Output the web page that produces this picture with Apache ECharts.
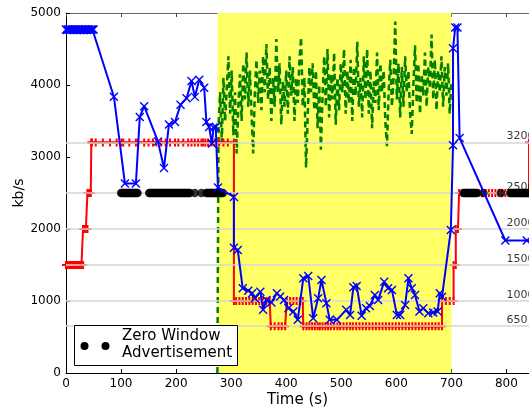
<!DOCTYPE html>
<html><head><meta charset="utf-8">
<script src="https://cdn.jsdelivr.net/npm/echarts@6/dist/echarts.min.js"></script>
<style>html,body{margin:0;padding:0;background:#fff}#c{width:529px;height:409px}</style>
</head><body><div id="c"></div>
<script>
// ---- data ----
const xTicks = [0,100,200,300,400,500,600,700,800];
const yTicks = [0,1000,2000,3000,4000,5000];
const rateLevels = [3200,2500,2000,1500,1000,650];
const competingSpan = [275,700];

const videoThroughput = [
[0,4770],[2,4765],[4,4770],[6,4770],[8,4765],[10,4770],[12,4770],[14,4765],[16,4770],[18,4770],[20,4765],[22,4770],[24,4770],[26,4765],[28,4770],[30,4770],[32,4765],[34,4770],[36,4770],[38,4765],[40,4770],[42,4770],[44,4765],[46,4770],[48,4770],[50,4770],
[87,3837],[107,2632],[127,2632],[134,3554],[142,3706],[167,3217],[178,2848],[187,3453],[198,3485],[208,3726],[219,3817],[228,4055],[234,3835],[242,4072],[251,3961],[255,3485],[260,3416],[265,3186],[268,3410],[272,3416],[276,2575],[305,2446],[305,1740],[312,1708],[321,1177],[331,1144],[338,1108],[343,1039],[353,1130],[358,877],[364,1015],[373,978],[383,1108],[389,1061],[396,1015],[404,900],[413,853],[421,738],[431,1316],[440,1348],[449,762],[458,1039],[464,1292],[473,970],[479,738],[492,738],[509,877],[516,807],[522,1191],[528,1209],[537,794],[545,900],[552,932],[561,1084],[567,1015],[578,1269],[585,1177],[592,1154],[601,807],[607,807],[616,946],[622,1316],[628,1177],[634,1084],[642,853],[649,900],[658,831],[667,839],[675,853],[679,1108],[683,1060],[699,1985],[703,3162],[703,4510],[707,4800],[711,4800],[715,3263],[798,1840],[837,1840],[846,1840]
];

const playbackRate = [
[0,1500],[2,1500],[4,1500],[6,1500],[8,1500],[10,1500],[12,1500],[14,1500],[16,1500],[18,1500],[20,1500],[22,1500],[24,1500],[26,1500],[28,1500],[31,1500],[31,2000],[33,2000],[36,2000],[39,2000],[39,2500],[42,2500],[45,2500],[46,3200],
[47,3200],[54,3200],[67,3200],[80,3200],[92,3200],[101,3200],[104,3200],[115,3200],[127,3200],[131,3200],[142,3200],[150,3200],[158,3200],[164,3200],[173,3200],[181,3200],[189,3200],[198,3200],[204,3200],[213,3200],[222,3200],[228,3200],[234,3200],[240,3200],[246,3200],[249,3200],[253,3200],[258,3200],[264,3200],[270,3200],[278,3200],[286,3200],[294,3200],[305,3200],
[305,1000],[309,1000],[315,1000],[321,1000],[327,1000],[333,1000],[339,1000],[345,1000],[351,1000],[358,1000],[364,1000],[370,1000],[372,650],[379,650],[386,650],[392,650],[398,650],[401,1000],[407,1000],[413,1000],[419,1000],[425,1000],[430,1000],[431,650],
[437,650],[442,650],[447,650],[452,650],[457,650],[461,650],[466,650],[471,650],[476,650],[481,650],[487,650],[493,650],[498,650],[504,650],[510,650],[516,650],[521,650],[527,650],[533,650],[539,650],[545,650],[551,650],[557,650],[563,650],[569,650],[575,650],[581,650],[587,650],[593,650],[599,650],[605,650],[611,650],[617,650],[623,650],[629,650],[635,650],[641,650],[647,650],[653,650],[659,650],[665,650],[671,650],[677,650],[683,650],
[683,1000],[690,1000],[697,1000],[704,1000],[704,1500],[708,1500],[708,2000],[712,2000],[714,2500],[720,2500],[726,2500],[732,2500],[738,2500],[744,2500],[750,2500],[756,2500],[762,2500],[768,2500],[774,2500],[780,2500],[786,2500],[792,2500],[798,2500],[804,2500],[810,2500],[816,2500],[822,2500],[828,2500],[834,2500],[841,2500],[841,3200],[846,3200]
];

const competingThroughput = [
[275,0],[277,3400],[280,3900],[283,3200],[286,4100],[289,3500],[292,3950],[295,4400],[298,3600],[301,4200],[304,3300],[307,3900],[310,3050],[313,3700],[316,4150],[319,3500],[322,4300],[325,3800],[328,4450],[331,3700],[334,4200],[337,3600],[340,3050],[343,3900],[346,4350],[349,3750],[352,4200],[355,3650],[358,4400],[361,3900],[364,4570],[367,3800],[370,4250],[373,3500],[376,4100],[379,3700],[382,4640],[385,3900],[388,4300],[391,3450],[394,4050],[397,3700],[400,4200],[403,3600],[406,4400],[409,3850],[412,4250],[415,3500],[418,4100],[421,3750],[424,4350],[427,4660],[430,3700],[433,4100],[436,2850],[439,3550],[442,4250],[445,3900],[448,4300],[451,3650],[454,4200],[457,3400],[460,4000],[463,3100],[466,3850],[469,4400],[472,3700],[475,4500],[478,3550],[481,4150],[484,3800],[487,4450],[490,3450],[493,4100],[496,3650],[499,4300],[502,3900],[505,4500],[508,3600],[511,4200],[514,3750],[517,4350],[520,3500],[523,4250],[526,3850],[529,4600],[532,3700],[535,4100],[538,3550],[541,4400],[544,3800],[547,4500],[550,3600],[553,4200],[556,3400],[559,4050],[562,3750],[565,4450],[568,3650],[571,4300],[574,3900],[577,4200],[580,3500],[583,3150],[586,3900],[589,4350],[592,3700],[595,4100],[598,4880],[601,3800],[604,4300],[607,3550],[610,4250],[613,3700],[616,4400],[619,3900],[622,4200],[625,3600],[628,3320],[631,4000],[634,4550],[637,3750],[640,4300],[643,3600],[646,4150],[649,3850],[652,4450],[655,3700],[658,4250],[661,3950],[664,4700],[667,3800],[670,4350],[673,3650],[676,4200],[679,3900],[682,4400],[685,3700],[688,4250],[691,3850],[694,4300],[697,3600],[700,4050]
];

const zeroWindowTimes = [100,102,104,106,108,110,112,114,116,118,120,122,124,126,128,130,
151,153,155,157,159,161,163,165,167,169,171,173,175,177,179,181,183,185,187,189,191,193,195,197,199,201,203,205,207,209,211,213,215,217,219,221,223,225,
234,246,255,257,259,261,263,265,267,269,271,273,275,277,279,281,283,285,
722,724,726,728,730,732,734,736,738,740,742,744,746,758,790,807,809,811,813,815,817,819,821,823,825,827,829,831,833,835,837,839,841];
const zeroWindowLevel = 2500;

// ---- chart ----
const FONT = 'DejaVu Sans';
const X_MAX = 841;
const chart = echarts.init(document.getElementById('c'), null, {renderer:'canvas'});
const xSym = 'path://M0 0L10 10M10 0L0 10';
const pSym = 'path://M5 0L5 10M0 5L10 5';

chart.setOption({
  animation:false,
  backgroundColor:'#fff',
  textStyle:{fontFamily:FONT},
  grid:{left:66,right:0,top:13,bottom:36,containLabel:false,outerBoundsMode:'none'},
  xAxis:[{
    type:'value',min:0,max:X_MAX,interval:100,
    name:'Time (s)',nameLocation:'middle',nameGap:20,nameMoveOverlap:false,
    nameTextStyle:{fontFamily:FONT,fontSize:15,color:'#000'},
    axisLine:{lineStyle:{color:'#000',width:1}},
    axisTick:{inside:true,length:4,lineStyle:{color:'#000'}},
    axisLabel:{fontFamily:FONT,fontSize:12,color:'#000',margin:5,showMaxLabel:false,formatter:v=>String(v)},
    splitLine:{show:false}
  },{
    type:'value',min:0,max:X_MAX,interval:100,position:'top',
    axisLine:{show:true,lineStyle:{color:'#666',width:1}},
    axisTick:{inside:true,length:4,lineStyle:{color:'#444'}},
    axisLabel:{show:false},splitLine:{show:false}
  }],
  yAxis:{
    type:'value',min:0,max:5000,interval:1000,
    name:'kb/s',nameLocation:'middle',nameGap:40,nameMoveOverlap:false,
    nameTextStyle:{fontFamily:FONT,fontSize:14,color:'#000'},
    axisLine:{show:true,lineStyle:{color:'#000',width:1}},
    axisTick:{show:true,inside:true,length:4,lineStyle:{color:'#000'}},
    axisLabel:{fontFamily:FONT,fontSize:12,color:'#000',margin:5,formatter:v=>String(v)},
    splitLine:{show:false}
  },
  series:[
    {type:'line',data:[],z:1,silent:true,
     markArea:{silent:true,itemStyle:{color:'#ffff66'},data:[[{xAxis:competingSpan[0]},{xAxis:competingSpan[1]}]]}},
    {type:'line',data:[],z:2,silent:true,
     markLine:{silent:true,symbol:['none','none'],label:{show:false},
       lineStyle:{color:'#d6d6d6',width:1.5,type:'solid'},
       data:rateLevels.map(v=>({yAxis:v}))}},
    {type:'line',name:'competing',z:3,data:competingThroughput,showSymbol:false,
     lineStyle:{color:'#007f00',width:2.5,type:[6,4]}},
    {type:'line',name:'rate',z:4,data:playbackRate,showAllSymbol:true,symbol:pSym,symbolSize:8,
     lineStyle:{color:'#ff0000',width:2},
     itemStyle:{color:'#ff0000',borderColor:'#ff0000',borderWidth:2}},
    {type:'scatter',name:'Zero Window Advertisement',z:5,symbolSize:8.5,
     data:zeroWindowTimes.map(t=>[t,zeroWindowLevel]),itemStyle:{color:'#000'}},
    {type:'line',name:'video',z:6,data:videoThroughput,showAllSymbol:true,symbol:xSym,symbolSize:8,
     lineStyle:{color:'#0000ff',width:2},
     itemStyle:{color:'#0000ff',borderColor:'#0000ff',borderWidth:1.4}},
    {type:'scatter',z:7,symbolSize:0,silent:true,
     data:rateLevels.map(v=>[800,v]),
     label:{show:true,position:'right',distance:0,offset:[0,-6],fontFamily:FONT,fontSize:11,color:'#000',
       formatter:p=>String(p.value[1])}}
  ],
  graphic:[
    {type:'text',left:232,top:14,style:{text:"Competing Flow's Throughput",font:'12.3px "DejaVu Sans"',fill:'#000'}},
    {type:'line',shape:{x1:321,y1:31,x2:315,y2:45},style:{stroke:'#000',lineWidth:1}},
    {type:'polyline',shape:{points:[[314,40],[315,45],[319,42]]},style:{stroke:'#000',lineWidth:1,fill:null}},
    {type:'text',left:287,top:232,style:{text:"Video Flow's\nThroughput",font:'12.5px "DejaVu Sans"',lineHeight:15,fill:'#000'}},
    {type:'line',shape:{x1:318,y1:265,x2:314,y2:277},style:{stroke:'#000',lineWidth:1}},
    {type:'polyline',shape:{points:[[313,272],[314,277],[318,274]]},style:{stroke:'#000',lineWidth:1,fill:null}},
    {type:'text',left:287,top:348,style:{text:'Video Playback Rate',font:'12.5px "DejaVu Sans"',fill:'#000'}},
    {type:'line',shape:{x1:347,y1:346,x2:343,y2:330},style:{stroke:'#000',lineWidth:1}},
    {type:'polyline',shape:{points:[[341,335],[343,330],[346,334]]},style:{stroke:'#000',lineWidth:1,fill:null}},
    {type:'rect',shape:{x:74.5,y:325.5,width:163,height:40},style:{fill:'#fff',stroke:'#000',lineWidth:1},z:100},
    {type:'circle',shape:{cx:84.5,cy:346,r:4},style:{fill:'#000'},z:101},
    {type:'circle',shape:{cx:105.5,cy:346,r:4},style:{fill:'#000'},z:101},
    {type:'text',left:122,top:328,z:101,style:{text:'Zero Window\nAdvertisement',font:'15px "DejaVu Sans"',lineHeight:17,fill:'#000'}}
  ]
});
</script></body></html>
